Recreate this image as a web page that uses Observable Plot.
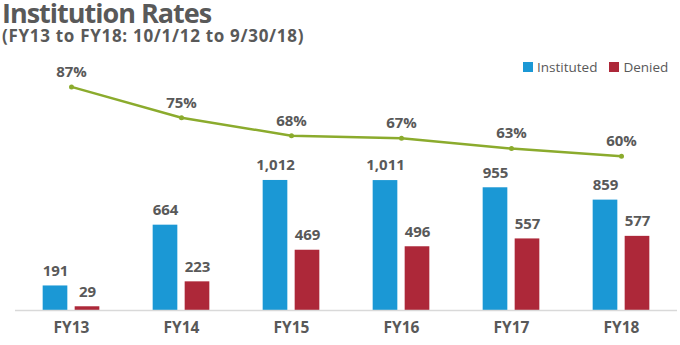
<!DOCTYPE html>
<html>
<head>
<meta charset="utf-8">
<script src="https://cdn.jsdelivr.net/npm/d3@7"></script>
<script src="https://cdn.jsdelivr.net/npm/@observablehq/plot@0.6"></script>
<style>
  body { margin: 0; background: #fff; font-family: "Open Sans", sans-serif; color: #595959; }
  #wrap { position: relative; width: 680px; height: 345px; overflow: hidden; }
  #title { position: absolute; left: 2px; top: 0px; font-size: 27px; line-height: 26px; font-weight: 700; letter-spacing: -1px; white-space: nowrap; }
  #subtitle { position: absolute; left: 2px; top: 28px; font-size: 17px; line-height: 16px; font-weight: 700; letter-spacing: 0.7px; white-space: nowrap; }
  #legend { position: absolute; left: 523px; top: 58px; font-size: 13.5px; display: flex; align-items: center; }
  #legend .sw { width: 10px; height: 10px; display: inline-block; margin-right: 4px; }
  #legend .item { display: flex; align-items: center; margin-right: 12px; }
  #chart { position: absolute; left: 0; top: 50px; }
</style>
</head>
<body>
<div id="wrap">
  <div id="title">Institution Rates</div>
  <div id="subtitle">(FY13 to FY18: 10/1/12 to 9/30/18)</div>
  <div id="legend"></div>
  <div id="chart"></div>
</div>
<script>
const years = ["FY13", "FY14", "FY15", "FY16", "FY17", "FY18"];
const instituted = [191, 664, 1012, 1011, 955, 859];
const denied = [29, 223, 469, 496, 557, 577];
const rates = [87, 75, 68, 67, 63, 60];
const seriesNames = ["Instituted", "Denied"];
const colors = ["#1b98d5", "#ad2839"];
const lineColor = "#8bab2d";
const textColor = "#595959";
const rateScale = 20; // rate (%) expressed in bar units for the secondary axis

const data = years.map((y, i) => ({year: y, inst: instituted[i], den: denied[i], rate: rates[i]}));

const legend = document.getElementById("legend");
seriesNames.forEach((n, i) => {
  const it = document.createElement("span");
  it.className = "item";
  it.innerHTML = `<span class="sw" style="background:${colors[i]}"></span>${n}`;
  legend.appendChild(it);
});

const fmt = d3.format(",");
const off = 16;
const inset = (662 / 6 - 25) / 2;
const lbl = {fontSize: 15, fontWeight: 700, fill: textColor, letterSpacing: "0.5px"};

const chart = Plot.plot({
  width: 680,
  height: 295,
  marginLeft: 15,
  marginRight: 3,
  marginTop: 28.7,
  marginBottom: 35,
  style: {fontFamily: "Open Sans, sans-serif", color: textColor, background: "transparent"},
  x: {domain: years, padding: 0},
  y: {domain: [0, 1800], axis: null},
  marks: [
    Plot.barY(data, {x: "year", y: "inst", fill: colors[0], insetLeft: inset, insetRight: inset, dx: -off}),
    Plot.barY(data, {x: "year", y: "den", fill: colors[1], insetLeft: inset, insetRight: inset, dx: off}),
    Plot.ruleY([0], {stroke: "#d9d9d9", strokeWidth: 1.5}),
    Plot.text(data, {x: "year", y: "inst", text: d => fmt(d.inst), dx: -off, dy: -15, ...lbl}),
    Plot.text(data, {x: "year", y: "den", text: d => fmt(d.den), dx: off, dy: -15, ...lbl}),
    Plot.lineY(data, {x: "year", y: d => d.rate * rateScale, stroke: lineColor, strokeWidth: 2.5}),
    Plot.dot(data, {x: "year", y: d => d.rate * rateScale, fill: lineColor, r: 2.5}),
    Plot.text(data, {x: "year", y: d => d.rate * rateScale, text: d => d.rate + "%", dy: -15, ...lbl}),
    Plot.axisX({tickSize: 0, tickPadding: 11, label: null, fontSize: 15.5, fontWeight: 700, fill: textColor, letterSpacing: "0.5px"})
  ]
});
document.getElementById("chart").appendChild(chart);
</script>
</body>
</html>
